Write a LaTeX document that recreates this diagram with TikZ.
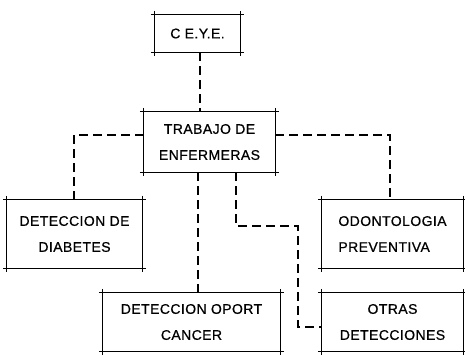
\documentclass[tikz,border=0pt]{standalone}
\usepackage{fontspec}
\setmainfont[LetterSpace=3,FakeBold=0.6]{Liberation Sans}
\usetikzlibrary{calc}
\tikzset{
  boxnode/.style={inner sep=0pt, align=center, font={\fontsize{14}{26}\selectfont}},
  boxline/.style={line width=1.1pt, black},
  link/.style={line width=1.8pt, black, dash pattern=on 9pt off 5pt},
}
\begin{document}
\begin{tikzpicture}[x=1pt,y=-1pt]
\useasboundingbox (0,0) rectangle (465,354);
\node[boxnode, minimum width=85pt, minimum height=37pt] (ceye) at (197.5,33.5) {C E.Y.E.};
\node[boxnode, minimum width=131pt, minimum height=60pt] (trab) at (209.5,142) {TRABAJO DE\\ENFERMERAS};
\node[boxnode, minimum width=135pt, minimum height=68pt] (diab) at (74.5,234) {DETECCION DE\\DIABETES};
\node[boxnode, align=left, minimum width=141pt, minimum height=68pt] (odon) at (392.5,234) {ODONTOLOGIA\\PREVENTIVA};
\node[boxnode, minimum width=177pt, minimum height=58pt] (canc) at (191.5,322) {DETECCION OPORT\\CANCER};
\node[boxnode, minimum width=141pt, minimum height=58pt] (otras) at (392.5,322) {OTRAS\\DETECCIONES};
\foreach \n in {ceye,trab,diab,odon,canc,otras}{
  \draw[boxline] ([xshift=-4pt]\n.north west) -- ([xshift=4pt]\n.north east);
  \draw[boxline] ([xshift=-4pt]\n.south west) -- ([xshift=4pt]\n.south east);
  \draw[boxline] ([yshift=4pt]\n.north west) -- ([yshift=-4pt]\n.south west);
  \draw[boxline] ([yshift=4pt]\n.north east) -- ([yshift=-4pt]\n.south east);
}
\coordinate (cs) at ([xshift=2.5pt]ceye.south);
\draw[link] (cs) -- (cs |- trab.north);
\coordinate (tl) at ($(trab.north west)+(0,23)$);
\coordinate (tr) at ($(trab.north east)+(0,23)$);
\draw[link] (tl) -| ([xshift=-0.5pt]diab.north);
\draw[link] (tr) -| ([xshift=-2.5pt]odon.north);
\coordinate (tb1) at ([xshift=-11.5pt]trab.south);
\draw[link] (tb1) -- (tb1 |- canc.north);
\coordinate (tb2) at ([xshift=26.5pt]trab.south);
\coordinate (bend) at (298,226);
\coordinate (oin) at ([yshift=-5pt]otras.west);
\draw[link] (tb2) |- (bend) |- (oin);
\end{tikzpicture}
\end{document}
